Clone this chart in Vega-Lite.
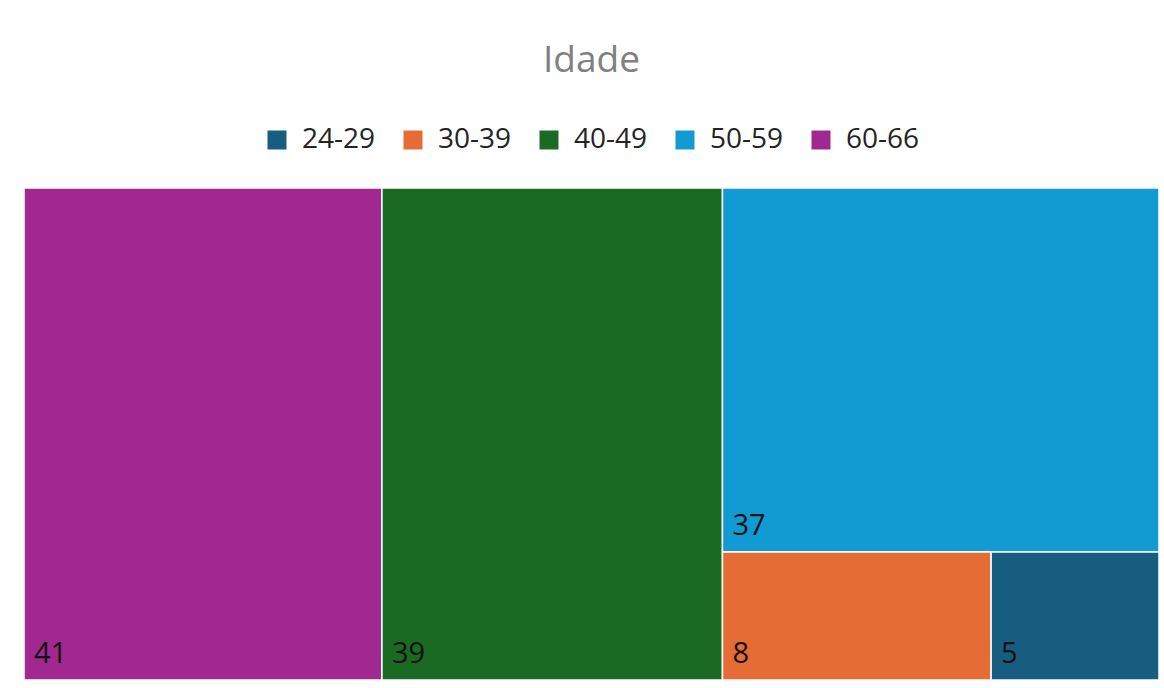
{
  "$schema": "https://vega.github.io/schema/vega-lite/v6.json",
  "width": 1135,
  "height": 492,
  "autosize": {"type": "none"},
  "padding": {"top": 188, "left": 24, "right": 5, "bottom": 8},
  "background": "white",
  "title": {
    "text": "Idade",
    "anchor": "middle",
    "color": "#808080",
    "fontSize": 37,
    "font": "Open Sans",
    "fontWeight": "normal",
    "offset": 46
  },
  "data": {
    "values": [
      {"faixa": "60-66", "valor": 41, "coluna": 1, "linha": 1, "ordem": 1},
      {"faixa": "40-49", "valor": 39, "coluna": 2, "linha": 1, "ordem": 1},
      {"faixa": "50-59", "valor": 37, "coluna": 3, "linha": 1, "ordem": 1},
      {"faixa": "30-39", "valor": 8, "coluna": 3, "linha": 2, "ordem": 1},
      {"faixa": "24-29", "valor": 5, "coluna": 3, "linha": 2, "ordem": 2}
    ]
  },
  "transform": [
    {"joinaggregate": [{"op": "sum", "field": "valor", "as": "total"}]},
    {"joinaggregate": [{"op": "sum", "field": "valor", "as": "colTotal"}], "groupby": ["coluna"]},
    {"joinaggregate": [{"op": "sum", "field": "valor", "as": "rowTotal"}], "groupby": ["coluna", "linha"]},
    {"window": [{"op": "sum", "field": "valor", "as": "cumAll"}], "sort": [{"field": "coluna"}, {"field": "linha"}, {"field": "ordem"}]},
    {"window": [{"op": "sum", "field": "valor", "as": "cumCol"}], "groupby": ["coluna"], "sort": [{"field": "linha"}, {"field": "ordem"}]},
    {"window": [{"op": "sum", "field": "valor", "as": "cumRow"}], "groupby": ["coluna", "linha"], "sort": [{"field": "ordem"}]},
    {"calculate": "datum.cumAll - datum.cumCol", "as": "prevCols"},
    {"calculate": "datum.cumCol - datum.cumRow", "as": "prevRows"},
    {"calculate": "datum.cumRow - datum.valor", "as": "rowStart"},
    {"calculate": "datum.prevCols / datum.total + (datum.colTotal / datum.total) * datum.rowStart / datum.rowTotal", "as": "x0"},
    {"calculate": "datum.prevCols / datum.total + (datum.colTotal / datum.total) * datum.cumRow / datum.rowTotal", "as": "x1"},
    {"calculate": "datum.prevRows / datum.colTotal", "as": "y0"},
    {"calculate": "(datum.prevRows + datum.rowTotal) / datum.colTotal", "as": "y1"}
  ],
  "layer": [
    {
      "mark": {"type": "rect", "stroke": "white", "strokeWidth": 1.5},
      "encoding": {
        "x": {"field": "x0", "type": "quantitative", "scale": {"domain": [0, 1], "nice": false, "zero": false}, "axis": null},
        "x2": {"field": "x1"},
        "y": {"field": "y0", "type": "quantitative", "scale": {"domain": [0, 1], "reverse": true, "nice": false, "zero": false}, "axis": null},
        "y2": {"field": "y1"},
        "color": {
          "field": "faixa",
          "type": "nominal",
          "scale": {
            "domain": ["24-29", "30-39", "40-49", "50-59", "60-66"],
            "range": ["#165D80", "#E66C35", "#1B6A23", "#119BD2", "#A0288E"]
          },
          "legend": {
            "title": null,
            "orient": "top",
            "direction": "horizontal",
            "symbolType": "square",
            "symbolSize": 360,
            "symbolStrokeWidth": 0,
            "labelFontSize": 28,
            "labelFont": "Open Sans",
            "labelColor": "#252423",
            "labelOffset": 11,
            "columnPadding": 23,
            "offset": 34
          }
        }
      }
    },
    {
      "mark": {"type": "text", "align": "left", "baseline": "alphabetic", "dx": 10, "dy": -17, "fontSize": 29, "font": "Open Sans", "color": "#111111"},
      "encoding": {
        "x": {"field": "x0", "type": "quantitative"},
        "y": {"field": "y1", "type": "quantitative"},
        "text": {"field": "valor", "type": "quantitative"}
      }
    }
  ],
  "config": {
    "view": {"stroke": null},
    "legend": {"layout": {"top": {"anchor": "middle"}}}
  }
}
